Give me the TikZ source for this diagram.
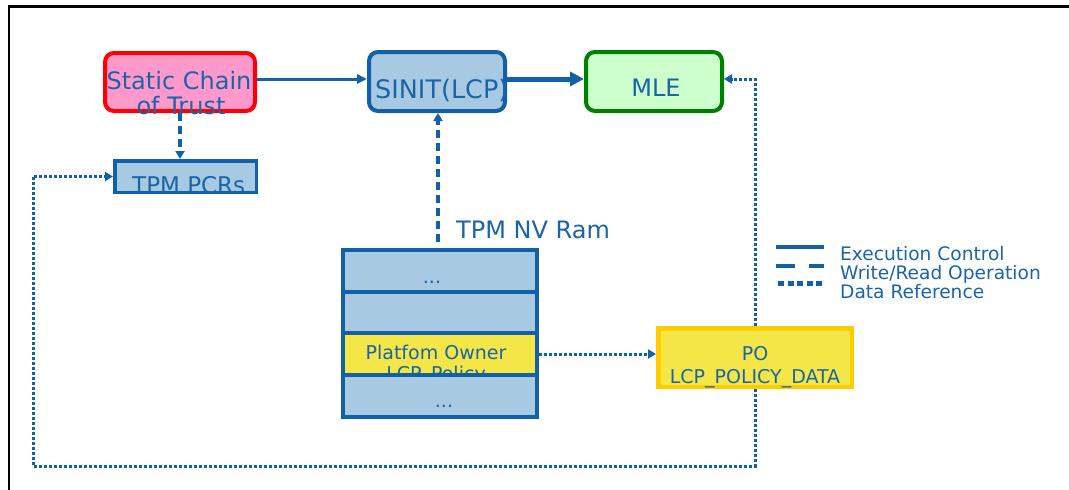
\documentclass[tikz,border=0pt]{standalone}
\usepackage{fontspec}
\setmainfont{DejaVu Sans}
\usetikzlibrary{arrows.meta,calc}
\definecolor{cblue}{HTML}{1160A8}
\definecolor{tblue}{HTML}{1A64AA}
\definecolor{lblue}{HTML}{A7CAE2}
\definecolor{cpink}{HTML}{FF99CC}
\definecolor{cred}{HTML}{FF0000}
\definecolor{cgreen}{HTML}{008000}
\definecolor{lgreen}{HTML}{CCFFCC}
\definecolor{cyel}{HTML}{F3E646}
\definecolor{cyelb}{HTML}{FFCC00}
\begin{document}
\begin{tikzpicture}[x=1pt,y=-1pt,
  rbox/.style={rectangle,rounded corners=9pt,line width=4pt,inner sep=0pt},
  sbox/.style={rectangle,draw=cblue,fill=lblue,inner sep=0pt},
  bigtxt/.style={font=\fontsize{24}{26}\selectfont,text=tblue,inner sep=0pt,anchor=base},
  smalltxt/.style={font=\fontsize{19}{21}\selectfont,text=tblue,inner sep=0pt,anchor=base},
  legtxt/.style={font=\fontsize{18.6}{20}\selectfont,text=tblue,inner sep=0pt,anchor=base west},
  exec/.style={draw=cblue,line width=3pt,-{Triangle[length=10pt,width=9pt]}},
  execthick/.style={draw=cblue,line width=5pt,-{Triangle[length=14pt,width=14pt]}},
  wr/.style={draw=cblue,line width=4pt,dash pattern=on 8pt off 5pt,-{Triangle[length=8pt,width=9pt]}},
  dref/.style={draw=cblue,line width=3pt,dash pattern=on 3pt off 2pt,-{Triangle[length=8pt,width=9pt]}},
  dline/.style={draw=cblue,line width=3pt,dash pattern=on 3pt off 2pt}]
\useasboundingbox (0,0) rectangle (1069,490);
% frame
\draw[line width=2.5pt] (9,490) -- (9,6.5) -- (1069,6.5);

% top boxes
\node[rbox,draw=cred,fill=cpink,minimum width=150pt,minimum height=58pt] (sct) at (180,82) {};
\node[bigtxt] (sctA) at (179,89) {Static Chain};
\node[bigtxt] (sctB) at (181,114) {of Trust};

\node[rbox,draw=cblue,fill=lblue,minimum width=136pt,minimum height=59pt] (sinit) at (437,81.5) {};
\begin{scope}
  \clip[rounded corners=7pt] ($(sinit.south west)+(2,-2)$) rectangle ($(sinit.north east)+(-2,2)$);
  \node[bigtxt,anchor=base west,font=\fontsize{25.5}{27}\selectfont] (sinitT) at (375,98) {SINIT(LCP)};
\end{scope}

\node[rbox,draw=cgreen,fill=lgreen,minimum width=136pt,minimum height=59pt] (mle) at (654,81.5) {};
\node[bigtxt] (mleT) at (656,96) {MLE};

% PCRs
\node[sbox,line width=3.5pt,minimum width=141.5pt,minimum height=31.5pt] (pcrs) at (185.5,176.5) {};
\begin{scope}
  \clip ($(pcrs.south west)+(1.75,-1.75)$) rectangle ($(pcrs.north east)+(-1.75,1.75)$);
  \node[bigtxt,anchor=base west,font=\fontsize{23}{25}\selectfont] (pcrsT) at (132,193) {TPM PCRs};
\end{scope}

% NV RAM stack
\node[bigtxt,anchor=base west] (nvT) at (456,238) {TPM NV Ram};
\node[sbox,line width=4pt,minimum width=194pt,minimum height=42pt] (nv1) at (440,271) {};
\node[smalltxt] (nv1T) at (432,283) {...};
\node[sbox,line width=4pt,minimum width=194pt,minimum height=41pt] (nv2) at (440,312.5) {};
\node[sbox,line width=4pt,fill=cyel,minimum width=194pt,minimum height=42pt] (nv3) at (440,354) {};
\node[smalltxt] (nv3A) at (436,359) {Platfom Owner};
\node[smalltxt] (nv3B) at (436,380) {LCP\_Policy};
\node[sbox,line width=4pt,minimum width=194pt,minimum height=42pt] (nv4) at (440,396) {};
\node[smalltxt] (nv4T) at (444,407) {...};

% PO
\node[rectangle,draw=cyelb,fill=cyel,line width=4.5pt,inner sep=0pt,minimum width=193.5pt,minimum height=58.5pt] (po) at (755,357.5) {};
\node[smalltxt] (poA) at (755,360) {PO};
\node[smalltxt] (poB) at (755,383) {LCP\_POLICY\_DATA};

% connectors
\coordinate (ctrl) at (0,79);
\coordinate (nvtap) at (438,242);
\coordinate (bl) at (33,466);
\draw[exec] (sct.east |- ctrl) -- (sinit.west |- ctrl);
\draw[execthick] (sinit.east |- ctrl) -- (mle.west |- ctrl);
\draw[wr] (sct.south) -- (sct.south |- pcrs.north);
\draw[wr] (nvtap) -- (nvtap |- sinit.south);
\draw[dref] (nv3.east) -- (nv3.east -| po.west);
\draw[dref] (po.north) |- (mle.east |- ctrl);
\draw[dref] (po.south) |- (bl) |- (pcrs.west);

% legend
\coordinate (lg1) at (776,247);
\coordinate (lg2) at (776,266);
\coordinate (lg3) at (778,283);
\draw[draw=cblue,line width=4.5pt] (lg1) -- ++(48,0);
\draw[draw=cblue,line width=4.5pt,dash pattern=on 19pt off 14pt] (lg2) -- ++(48,0);
\draw[draw=cblue,line width=5pt,dash pattern=on 6pt off 3.6pt] (lg3) -- ++(46,0);
\node[legtxt] (lgA) at (840,260) {Execution Control};
\node[legtxt] (lgB) at (840,279.5) {Write/Read Operation};
\node[legtxt] (lgC) at (840,298.5) {Data Reference};
\end{tikzpicture}
\end{document}
